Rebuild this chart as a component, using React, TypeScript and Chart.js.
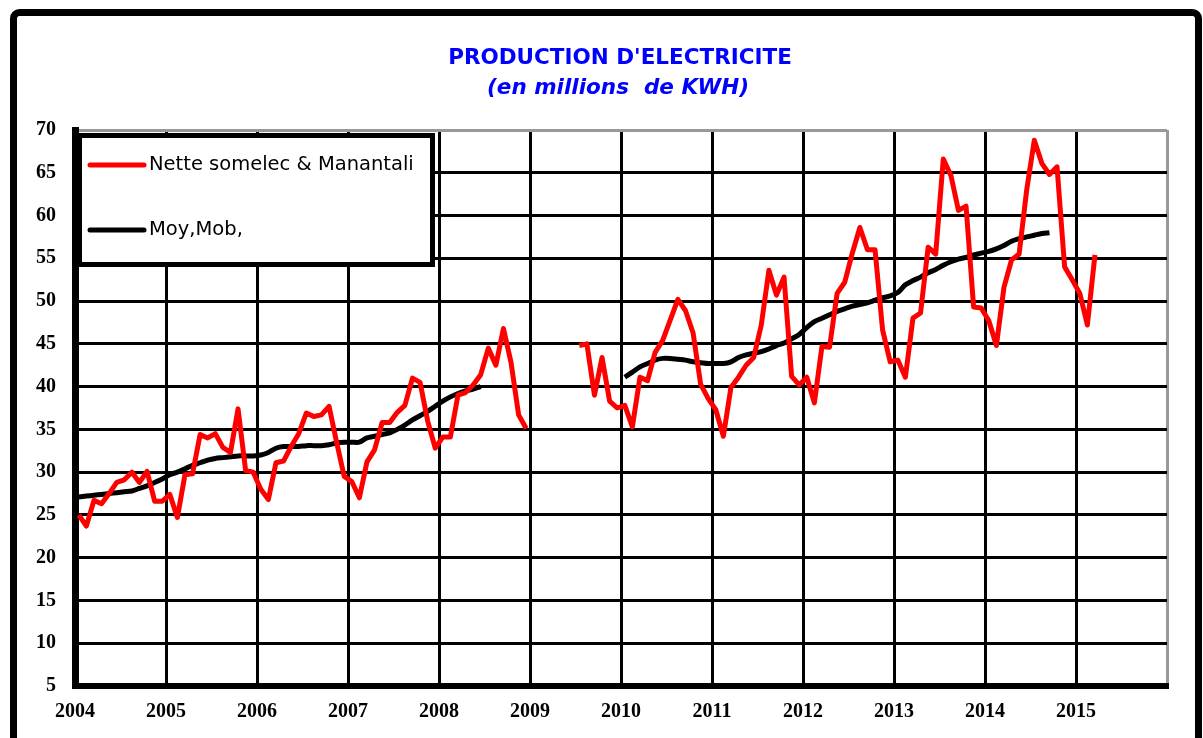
import React, { useEffect, useRef } from 'react';
import { Chart, registerables } from 'chart.js';

Chart.register(...registerables);

const TITLE = "PRODUCTION D'ELECTRICITE";
const SUBTITLE = '(en millions  de KWH)';
const SERIES_LABELS = ['Nette somelec & Manantali', 'Moy,Mob,'];
const SERIES_COLORS = ['#ff0000', '#000000'];
const START_YEAR = 2004;
const END_YEAR = 2016;
const Y_MIN = 5;
const Y_MAX = 70;
const Y_STEP = 5;

// Monthly net production (millions of kWh), Jan..Dec
const nette2004 = [25.0, 23.7, 26.7, 26.3, 27.5, 28.8, 29.1, 30.0, 28.8, 30.1, 26.6, 26.6];
const nette2005 = [27.4, 24.7, 29.7, 29.8, 34.4, 34.0, 34.5, 32.9, 32.3, 37.4, 30.2, 30.0];
const nette2006 = [28.0, 26.8, 31.1, 31.3, 33.0, 34.5, 36.9, 36.5, 36.7, 37.7, 33.5, 29.5];
const nette2007 = [28.9, 27.0, 31.2, 32.6, 35.8, 35.8, 37.0, 37.8, 41.0, 40.5, 36.0, 32.8];
const nette2008 = [34.1, 34.1, 39.0, 39.3, 40.2, 41.4, 44.5, 42.5, 46.8, 42.8, 36.7, 35.1];
const nette2009 = [null, null, null, null, null, null, 44.8, 45.0, 39.0, 43.4, 38.3, 37.5];
const nette2010 = [37.8, 35.3, 41.1, 40.7, 44.0, 45.4, 47.8, 50.2, 48.9, 46.3, 40.3, 38.6];
const nette2011 = [37.3, 34.2, 39.9, 41.1, 42.5, 43.4, 47.2, 53.6, 50.7, 52.8, 41.2, 40.2];
const nette2012 = [41.1, 38.1, 44.7, 44.6, 50.9, 52.2, 55.6, 58.6, 56.0, 56.0, 46.6, 42.9];
const nette2013 = [43.1, 41.1, 48.0, 48.6, 56.3, 55.5, 66.6, 64.7, 60.6, 61.1, 49.3, 49.2];
const nette2014 = [47.7, 44.8, 51.6, 54.8, 55.5, 63.0, 68.8, 66.1, 64.8, 65.7, 54.0, 52.5];
const nette2015 = [50.9, 47.2, 55.4];

// Moving average
const moy2004 = [27.1, 27.2, 27.3, 27.4, 27.5, 27.6, 27.7, 27.8, 28.1, 28.4, 28.8, 29.2];
const moy2005 = [29.7, 30.0, 30.4, 30.8, 31.1, 31.4, 31.6, 31.7, 31.8, 31.9, 31.9, 31.9];
const moy2006 = [32.0, 32.3, 32.8, 33.0, 33.0, 33.0, 33.1, 33.1, 33.1, 33.2, 33.4, 33.5];
const moy2007 = [33.5, 33.5, 34.0, 34.2, 34.4, 34.6, 35.0, 35.5, 36.1, 36.6, 37.1, 37.7];
const moy2008 = [38.3, 38.8, 39.2, 39.5, 39.7, 40.0, null, null, null, null, null, null];
const moy2009 = [null, null, null, null, null, null, null, null, null, null, null, null];
const moy2010 = [41.1, 41.7, 42.3, 42.7, 43.1, 43.3, 43.3, 43.2, 43.1, 42.9, 42.8, 42.7];
const moy2011 = [42.7, 42.7, 42.9, 43.4, 43.7, 43.9, 44.1, 44.4, 44.8, 45.1, 45.6, 46.1];
const moy2012 = [46.9, 47.6, 48.0, 48.4, 48.8, 49.1, 49.4, 49.6, 49.8, 50.1, 50.4, 50.6];
const moy2013 = [51.0, 51.9, 52.4, 52.8, 53.3, 53.7, 54.2, 54.6, 54.9, 55.1, 55.4, 55.6];
const moy2014 = [55.8, 56.1, 56.5, 57.0, 57.3, 57.5, 57.7, 57.9, 58.0];

const netteYears = [nette2004, nette2005, nette2006, nette2007, nette2008, nette2009, nette2010, nette2011, nette2012, nette2013, nette2014, nette2015];
const moyYears = [moy2004, moy2005, moy2006, moy2007, moy2008, moy2009, moy2010, moy2011, moy2012, moy2013, moy2014];

function toPoints(years: (number | null)[][]) {
  const pts: { x: number; y: number | null }[] = [];
  years.forEach((arr, yi) => {
    arr.forEach((v, m) => {
      pts.push({ x: START_YEAR + yi + (m + 0.5) / 12, y: v });
    });
  });
  return pts;
}

const decorPlugin = {
  id: 'decor',
  afterDraw(chart: any) {
    const ctx = chart.ctx;
    ctx.save();
    // outer frame
    ctx.strokeStyle = '#000';
    ctx.lineWidth = 7;
    ctx.beginPath();
    if ((ctx as any).roundRect) (ctx as any).roundRect(13.5, 12.5, 1185, 780, 6);
    else ctx.rect(13.5, 12.5, 1185, 780);
    ctx.stroke();

    // titles
    ctx.fillStyle = '#0000ff';
    ctx.textAlign = 'center';
    ctx.textBaseline = 'middle';
    ctx.font = "bold 21.5px 'DejaVu Sans'";
    ctx.fillText(TITLE, 620, 58);
    ctx.font = "italic bold 21.5px 'DejaVu Sans'";
    ctx.fillText(SUBTITLE, 618, 88);

    // legend box
    ctx.fillStyle = '#fff';
    ctx.fillRect(77, 133, 358, 134);
    ctx.strokeStyle = '#000';
    ctx.lineWidth = 5;
    ctx.strokeRect(79.5, 135.5, 353, 129);
    const rows = [165, 230];
    chart.data.datasets.forEach((ds: any, i: number) => {
      const y = rows[i];
      ctx.strokeStyle = ds.borderColor;
      ctx.lineWidth = 5;
      ctx.lineCap = 'round';
      ctx.beginPath();
      ctx.moveTo(90, y);
      ctx.lineTo(144, y);
      ctx.stroke();
      ctx.fillStyle = '#000';
      ctx.textAlign = 'left';
      ctx.textBaseline = 'middle';
      ctx.font = "19.5px 'DejaVu Sans'";
      ctx.fillText(ds.label, 149, y);
    });
    ctx.restore();
  },
};

export default function App() {
  const ref = useRef<HTMLCanvasElement | null>(null);
  useEffect(() => {
    if (!ref.current) return;
    const chart = new Chart(ref.current, {
      type: 'line',
      data: {
        datasets: [
          {
            label: SERIES_LABELS[0],
            data: toPoints(netteYears),
            borderColor: SERIES_COLORS[0],
            backgroundColor: SERIES_COLORS[0],
            borderWidth: 5,
            pointRadius: 0,
            tension: 0,
            spanGaps: false,
            borderJoinStyle: 'round',
          },
          {
            label: SERIES_LABELS[1],
            data: toPoints(moyYears),
            borderColor: SERIES_COLORS[1],
            backgroundColor: SERIES_COLORS[1],
            borderWidth: 5,
            pointRadius: 0,
            tension: 0.3,
            spanGaps: false,
          },
        ],
      },
      options: {
        responsive: false,
        animation: false,
        layout: { padding: { top: 130, right: 36, left: 0, bottom: 0 } },
        plugins: { legend: { display: false }, tooltip: { enabled: false }, title: { display: false } },
        scales: {
          x: {
            type: 'linear',
            min: START_YEAR,
            max: END_YEAR,
            afterFit: (s: any) => { s.height = 52; },
            afterBuildTicks: (s: any) => {
              const t = [];
              for (let y = START_YEAR; y <= END_YEAR; y++) t.push({ value: y });
              s.ticks = t;
            },
            ticks: {
              stepSize: 1,
              padding: 14,
              maxRotation: 0,
              autoSkip: false,
              color: '#000',
              font: { family: "'Liberation Serif'", size: 20, weight: 'bold' },
              callback: (v: any) => (Number(v) === END_YEAR ? '' : String(v)),
            },
            grid: {
              drawTicks: false,
              lineWidth: 3,
              color: (c: any) => (c.tick && c.tick.value === END_YEAR ? '#999' : '#000'),
            },
            border: { display: true, color: '#000', width: 6 },
          },
          y: {
            type: 'linear',
            min: Y_MIN,
            max: Y_MAX,
            afterFit: (s: any) => { s.width = 75; },
            ticks: {
              stepSize: Y_STEP,
              padding: 19,
              color: '#000',
              font: { family: "'Liberation Serif'", size: 20, weight: 'bold' },
              callback: (v: any) => String(v),
            },
            grid: {
              drawTicks: false,
              lineWidth: 3,
              color: (c: any) => (c.tick && c.tick.value === Y_MAX ? '#999' : '#000'),
            },
            border: { display: true, color: '#000', width: 7 },
          },
        },
      },
      plugins: [decorPlugin],
    } as any);
    return () => chart.destroy();
  }, []);
  return (
    <div style={{ position: 'absolute', left: 0, top: 0, width: 1203, height: 738, background: '#fff' }}>
      <canvas ref={ref} width={1203} height={738} style={{ display: 'block' }} />
    </div>
  );
}
